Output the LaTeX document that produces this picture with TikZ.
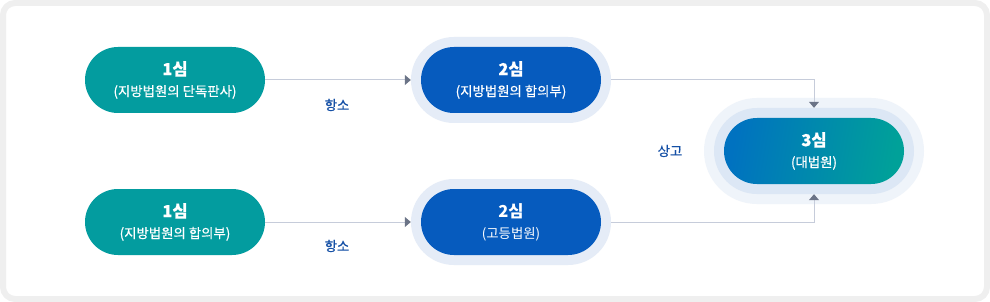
\documentclass[tikz,border=0pt]{standalone}
\usepackage{fontspec}
\setmainfont{Noto Sans CJK KR}
\usetikzlibrary{shapes.misc,arrows.meta}
\definecolor{tealnode}{HTML}{039C9F}
\definecolor{bluenode}{HTML}{065BBE}
\definecolor{halotwo}{HTML}{E5ECF7}
\definecolor{ringin}{HTML}{DCE7F5}
\definecolor{ringout}{HTML}{EFF4FA}
\definecolor{gradL}{HTML}{0072C0}
\definecolor{gradR}{HTML}{00A199}
\definecolor{conn}{HTML}{C6CCDA}
\definecolor{tipc}{HTML}{6B7487}
\definecolor{lbl}{HTML}{1550A6}
\definecolor{framec}{HTML}{EFEFEF}
\newcommand{\ttl}[1]{{\fontsize{16.5}{21}\selectfont\bfseries #1}}
\begin{document}
\begin{tikzpicture}[x=1pt,y=-1pt,
  court/.style={rounded rectangle, minimum width=180pt, minimum height=66pt,
    inner sep=0pt, text=white, align=center,
    font=\fontsize{13.4}{21}\selectfont\addfontfeatures{FakeBold=0.5}},
  courtlight/.style={court, font=\fontsize{13.4}{21}\selectfont},
  ring/.style 2 args={rounded rectangle, minimum width=#1pt, minimum height=#2pt,
    inner sep=0pt, draw=none},
  conline/.style={draw=conn, line width=1pt,
    -{Triangle[length=6pt,width=10pt,color=tipc]}},
  lab/.style={text=lbl, font=\fontsize{13.4}{15}\selectfont\addfontfeatures{FakeBold=0.5}, inner sep=0pt}]
\useasboundingbox (0,0) rectangle (990,302);
\draw[line width=6pt, draw=framec, fill=white, rounded corners=12pt] (3,3) rectangle (987,299);

% halos
\node[ring={200}{86}, fill=halotwo] (b1h) at (511,80) {};
\node[ring={200}{86}, fill=halotwo] (b2h) at (511,222) {};
\node[ring={220}{106}, fill=ringout] (co) at (814,151) {};
\node[ring={200}{86}, fill=ringin] (cm) at (814,151) {};

% nodes
\node[court, fill=tealnode] (a1) at (175,80) {\ttl{1심}\\(지방법원의 단독판사)};
\node[court, fill=tealnode] (a2) at (175,222) {\ttl{1심}\\(지방법원의 합의부)};
\node[court, fill=bluenode] (b1) at (511,80) {\ttl{2심}\\(지방법원의 합의부)};
\node[courtlight, fill=bluenode] (b2) at (511,222) {\ttl{2심}\\(고등법원)};
\node[court, left color=gradL, right color=gradR, shading angle=80] (c) at (814,151) {\ttl{3심}\\(대법원)};

% connectors
\draw[conline] (a1.east) -- (b1h.west);
\draw[conline] (a2.east) -- (b2h.west);
\draw[conline] (b1h.east) -| (cm.north);
\draw[conline] (b2h.east) -| (cm.south);

% labels
\node[lab] (l1) at (337,105) {항소};
\node[lab] (l2) at (337,246) {항소};
\node[lab] (l3) at (670,151) {상고};
\end{tikzpicture}
\end{document}
